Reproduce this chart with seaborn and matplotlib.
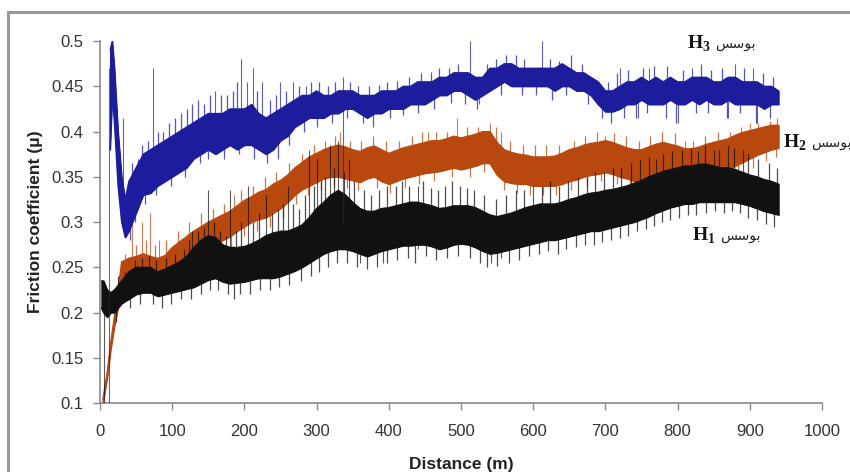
import numpy as np
import pandas as pd
import matplotlib
matplotlib.use('Agg')
import matplotlib.pyplot as plt
import seaborn as sns
from matplotlib.patches import Rectangle
from matplotlib.ticker import FuncFormatter

# distance grid (m) shared by the three traces after the running-in part
grid = list(range(40, 950, 10))

# H3 (blue) - lower / upper edge of the noisy band
h3_start_d = [14, 17, 20, 25, 30, 35]
h3_start_lo = [0.380, 0.440, 0.410, 0.340, 0.300, 0.283]
h3_start_hi = [0.490, 0.500, 0.470, 0.400, 0.350, 0.325]
h3_lo = [0.290, 0.310, 0.330, 0.332, 0.340, 0.345,
         0.350, 0.355, 0.360, 0.370, 0.375, 0.380, 0.375, 0.380, 0.385, 0.380,
         0.385, 0.385, 0.380, 0.375, 0.380, 0.390, 0.395, 0.405, 0.410, 0.415,
         0.415, 0.415, 0.420, 0.420, 0.425, 0.425, 0.420, 0.415, 0.420, 0.420,
         0.425, 0.425, 0.425, 0.430, 0.430, 0.430, 0.435, 0.440, 0.440, 0.445,
         0.445, 0.440, 0.435, 0.440, 0.445, 0.450, 0.455, 0.450, 0.450, 0.450,
         0.450, 0.450, 0.450, 0.445, 0.450, 0.450, 0.445, 0.445, 0.440, 0.430,
         0.422, 0.422, 0.425, 0.430, 0.430, 0.435, 0.430, 0.430, 0.430, 0.435,
         0.430, 0.430, 0.435, 0.430, 0.435, 0.430, 0.430, 0.435, 0.430, 0.430,
         0.430, 0.430, 0.425, 0.430, 0.430]
h3_hi = [0.345, 0.360, 0.375, 0.380, 0.385, 0.390,
         0.395, 0.400, 0.405, 0.410, 0.415, 0.420, 0.420, 0.420, 0.425, 0.425,
         0.425, 0.430, 0.420, 0.415, 0.420, 0.425, 0.430, 0.435, 0.440, 0.440,
         0.445, 0.440, 0.440, 0.445, 0.445, 0.445, 0.440, 0.440, 0.440, 0.445,
         0.445, 0.445, 0.450, 0.450, 0.455, 0.455, 0.455, 0.460, 0.460, 0.465,
         0.465, 0.465, 0.460, 0.460, 0.470, 0.470, 0.475, 0.475, 0.470, 0.470,
         0.470, 0.470, 0.470, 0.470, 0.475, 0.470, 0.465, 0.465, 0.460, 0.455,
         0.445, 0.445, 0.450, 0.455, 0.455, 0.460, 0.455, 0.460, 0.455, 0.460,
         0.455, 0.455, 0.460, 0.460, 0.460, 0.455, 0.455, 0.460, 0.460, 0.455,
         0.455, 0.455, 0.450, 0.450, 0.445]
# tall isolated spikes (distance, bottom, top)
h3_spike_d = [12, 32, 73, 160, 196, 203, 212, 225, 250, 268, 285, 336, 512, 525,
              612, 720, 745, 760, 800, 820, 870, 880, 905, 910]
h3_spike_lo = [0.100, 0.330, 0.370, 0.400, 0.410, 0.410, 0.400, 0.400, 0.410, 0.420, 0.430,
               0.300, 0.440, 0.430, 0.450, 0.440, 0.415, 0.440, 0.410, 0.440, 0.415,
               0.440, 0.440, 0.410]
h3_spike_hi = [0.470, 0.415, 0.470, 0.445, 0.480, 0.455, 0.470, 0.455, 0.455, 0.455, 0.450,
               0.460, 0.500, 0.450, 0.500, 0.470, 0.440, 0.470, 0.440, 0.470, 0.440,
               0.475, 0.470, 0.440]
# small noise peaks poking out of the band edges (distance, tip)
h3_up_d = [45, 52, 58, 66, 80, 88, 96, 104, 112, 120, 128, 136, 144, 152, 168, 176, 184,
           190, 218, 236, 244, 258, 276, 292, 304, 316, 326, 346, 358, 372, 386, 398,
           412, 428, 444, 458, 470, 484, 496, 536, 548, 562, 576, 588, 624, 636, 652,
           668, 704, 716, 732, 752, 768, 786, 808, 832, 846, 862, 892, 918, 932]
h3_up_v = [0.365, 0.370, 0.385, 0.390, 0.400, 0.400, 0.410, 0.415, 0.420, 0.425, 0.430,
           0.435, 0.430, 0.440, 0.440, 0.440, 0.445, 0.455, 0.445, 0.435, 0.440, 0.445,
           0.450, 0.455, 0.455, 0.450, 0.455, 0.455, 0.450, 0.450, 0.452, 0.455, 0.456,
           0.460, 0.465, 0.466, 0.470, 0.470, 0.475, 0.475, 0.480, 0.485, 0.485, 0.480,
           0.480, 0.478, 0.485, 0.475, 0.455, 0.465, 0.468, 0.470, 0.472, 0.472, 0.468,
           0.475, 0.468, 0.470, 0.470, 0.465, 0.460]
h3_dn_d = [42, 48, 62, 78, 98, 118, 138, 150, 172, 192, 214, 232, 246, 262, 282, 300,
           322, 342, 364, 378, 402, 420, 440, 462, 486, 506, 522, 556, 584, 604, 626,
           646, 676, 696, 708, 726, 742, 758, 784, 798, 826, 842, 868, 886, 908, 928]
h3_dn_v = [0.280, 0.300, 0.320, 0.330, 0.340, 0.350, 0.365, 0.370, 0.370, 0.375, 0.370,
           0.365, 0.370, 0.385, 0.400, 0.405, 0.410, 0.415, 0.410, 0.405, 0.415, 0.418,
           0.420, 0.425, 0.432, 0.430, 0.425, 0.440, 0.440, 0.440, 0.435, 0.440, 0.430,
           0.415, 0.410, 0.415, 0.415, 0.420, 0.415, 0.410, 0.420, 0.420, 0.415, 0.420,
           0.410, 0.415]

# H2 (orange)
h2_start_d = [4, 10, 15, 20, 25, 30]
h2_start_lo = [0.100, 0.128, 0.160, 0.185, 0.205, 0.232]
h2_start_hi = [0.104, 0.134, 0.168, 0.196, 0.225, 0.256]
h2_lo = [0.236, 0.236, 0.235, 0.232, 0.232, 0.235,
         0.245, 0.252, 0.257, 0.262, 0.266, 0.270, 0.275, 0.280, 0.284, 0.290,
         0.295, 0.300, 0.303, 0.305, 0.310, 0.315, 0.322, 0.330, 0.336, 0.340,
         0.344, 0.348, 0.350, 0.350, 0.348, 0.346, 0.344, 0.348, 0.350, 0.345,
         0.342, 0.345, 0.348, 0.350, 0.352, 0.354, 0.355, 0.356, 0.358, 0.360,
         0.358, 0.360, 0.362, 0.365, 0.365, 0.352, 0.345, 0.343, 0.342, 0.342,
         0.340, 0.340, 0.340, 0.340, 0.342, 0.345, 0.347, 0.350, 0.352, 0.353,
         0.355, 0.353, 0.350, 0.348, 0.345, 0.345, 0.348, 0.350, 0.350, 0.348,
         0.348, 0.345, 0.345, 0.347, 0.350, 0.352, 0.355, 0.358, 0.362, 0.366,
         0.370, 0.374, 0.377, 0.380, 0.382]
h2_hi = [0.260, 0.262, 0.265, 0.262, 0.260, 0.263,
         0.272, 0.278, 0.284, 0.290, 0.295, 0.300, 0.304, 0.308, 0.312, 0.318,
         0.324, 0.328, 0.333, 0.336, 0.342, 0.346, 0.352, 0.360, 0.366, 0.372,
         0.376, 0.380, 0.383, 0.385, 0.383, 0.380, 0.378, 0.382, 0.384, 0.380,
         0.376, 0.379, 0.382, 0.384, 0.386, 0.388, 0.390, 0.390, 0.392, 0.395,
         0.393, 0.395, 0.397, 0.400, 0.400, 0.388, 0.380, 0.377, 0.375, 0.374,
         0.372, 0.372, 0.372, 0.373, 0.376, 0.380, 0.382, 0.385, 0.387, 0.388,
         0.390, 0.388, 0.385, 0.382, 0.380, 0.380, 0.383, 0.386, 0.388, 0.386,
         0.384, 0.381, 0.381, 0.383, 0.386, 0.388, 0.390, 0.392, 0.396, 0.399,
         0.401, 0.403, 0.405, 0.407, 0.407]
h2_spike_d = [45, 58, 69, 82, 185, 332, 455, 494, 540, 555, 700, 810, 900]
h2_spike_lo = [0.240, 0.240, 0.240, 0.240, 0.300, 0.360, 0.370, 0.370, 0.380, 0.370,
               0.370, 0.360, 0.380]
h2_spike_hi = [0.300, 0.300, 0.310, 0.280, 0.330, 0.400, 0.400, 0.415, 0.410, 0.400,
               0.395, 0.390, 0.410]
h2_up_d = [35, 50, 64, 76, 92, 108, 124, 140, 156, 172, 196, 212, 228, 244, 262, 280,
           296, 312, 326, 346, 362, 378, 396, 414, 432, 446, 466, 480, 508, 524, 548,
           568, 586, 602, 618, 636, 656, 672, 688, 712, 728, 746, 762, 778, 796, 822,
           838, 856, 872, 888, 912, 928, 938]
h2_up_v = [0.265, 0.275, 0.280, 0.275, 0.280, 0.290, 0.300, 0.310, 0.315, 0.320, 0.335,
           0.340, 0.350, 0.355, 0.365, 0.375, 0.385, 0.390, 0.395, 0.390, 0.390, 0.395,
           0.390, 0.390, 0.395, 0.400, 0.400, 0.400, 0.405, 0.405, 0.405, 0.390, 0.385,
           0.385, 0.385, 0.385, 0.390, 0.395, 0.400, 0.398, 0.395, 0.390, 0.395, 0.400,
           0.398, 0.390, 0.395, 0.400, 0.400, 0.405, 0.410, 0.412, 0.415]
h2_dn_d = [38, 54, 72, 88, 104, 118, 134, 148, 164, 182, 200, 218, 236, 254, 272, 288,
           306, 324, 342, 358, 384, 402, 422, 442, 462, 488, 512, 532, 560, 578, 596,
           614, 632, 652, 674, 694, 716, 734, 754, 772, 792, 806, 826, 846, 866, 884,
           904, 922, 936]
h2_dn_v = [0.225, 0.225, 0.222, 0.225, 0.235, 0.245, 0.250, 0.255, 0.265, 0.272, 0.285,
           0.290, 0.295, 0.305, 0.320, 0.330, 0.335, 0.340, 0.338, 0.335, 0.338, 0.332,
           0.338, 0.342, 0.345, 0.350, 0.350, 0.355, 0.335, 0.332, 0.330, 0.330, 0.330,
           0.335, 0.340, 0.345, 0.342, 0.338, 0.335, 0.340, 0.338, 0.335, 0.335, 0.340,
           0.345, 0.352, 0.360, 0.368, 0.372]

# H1 (black)
h1_start_d = [2, 5, 10, 15, 20, 30]
h1_start_lo = [0.205, 0.200, 0.195, 0.200, 0.200, 0.210]
h1_start_hi = [0.235, 0.235, 0.225, 0.222, 0.225, 0.235]
h1_lo = [0.215, 0.220, 0.222, 0.222, 0.218, 0.220,
         0.222, 0.224, 0.226, 0.228, 0.232, 0.236, 0.238, 0.234, 0.232, 0.233,
         0.234, 0.236, 0.238, 0.238, 0.238, 0.240, 0.243, 0.246, 0.250, 0.255,
         0.260, 0.265, 0.268, 0.270, 0.270, 0.268, 0.265, 0.262, 0.265, 0.268,
         0.270, 0.272, 0.274, 0.274, 0.275, 0.275, 0.273, 0.270, 0.272, 0.275,
         0.276, 0.275, 0.272, 0.268, 0.265, 0.266, 0.268, 0.270, 0.272, 0.274,
         0.276, 0.278, 0.280, 0.280, 0.282, 0.284, 0.286, 0.288, 0.290, 0.290,
         0.292, 0.294, 0.296, 0.298, 0.300, 0.303, 0.306, 0.310, 0.313, 0.316,
         0.318, 0.320, 0.320, 0.322, 0.322, 0.322, 0.322, 0.322, 0.322, 0.320,
         0.318, 0.315, 0.312, 0.310, 0.308]
h1_hi = [0.245, 0.250, 0.250, 0.250, 0.245, 0.248,
         0.252, 0.256, 0.262, 0.272, 0.280, 0.285, 0.283, 0.275, 0.272, 0.272,
         0.273, 0.276, 0.280, 0.285, 0.288, 0.290, 0.290, 0.293, 0.297, 0.305,
         0.315, 0.322, 0.330, 0.335, 0.330, 0.322, 0.315, 0.312, 0.312, 0.315,
         0.316, 0.318, 0.320, 0.322, 0.322, 0.320, 0.318, 0.315, 0.316, 0.318,
         0.318, 0.318, 0.316, 0.312, 0.308, 0.306, 0.308, 0.310, 0.313, 0.316,
         0.318, 0.320, 0.320, 0.320, 0.322, 0.325, 0.327, 0.330, 0.332, 0.333,
         0.335, 0.336, 0.338, 0.340, 0.343, 0.346, 0.350, 0.353, 0.356, 0.358,
         0.360, 0.362, 0.362, 0.364, 0.364, 0.362, 0.360, 0.360, 0.358, 0.355,
         0.352, 0.350, 0.347, 0.345, 0.342]
h1_spike_d = [6, 128, 150, 180, 205, 230, 260, 290, 300, 318, 330, 345, 360, 392,
              440, 542, 555, 600, 770, 850, 870, 890]
h1_spike_lo = [0.100, 0.240, 0.260, 0.250, 0.250, 0.250, 0.260, 0.270, 0.270, 0.280,
               0.280, 0.280, 0.255, 0.255, 0.270, 0.255, 0.260, 0.290, 0.320, 0.330,
               0.330, 0.330]
h1_spike_hi = [0.210, 0.290, 0.335, 0.335, 0.340, 0.330, 0.340, 0.380, 0.370, 0.385,
               0.390, 0.370, 0.300, 0.290, 0.340, 0.290, 0.290, 0.340, 0.370, 0.380,
               0.385, 0.380]
h1_up_d = [25, 35, 48, 58, 68, 78, 92, 104, 116, 124, 136, 144, 158, 166, 174, 188, 196,
           212, 220, 238, 246, 254, 268, 276, 284, 296, 306, 312, 324, 338, 352, 366,
           376, 386, 398, 410, 418, 428, 448, 458, 468, 478, 488, 498, 508, 518, 532,
           548, 562, 576, 588, 612, 624, 636, 648, 662, 674, 686, 698, 710, 722, 736,
           748, 760, 780, 792, 806, 818, 828, 838, 858, 878, 898, 912, 926, 938]
h1_up_v = [0.240, 0.245, 0.258, 0.260, 0.262, 0.258, 0.260, 0.265, 0.270, 0.280, 0.290,
           0.295, 0.300, 0.290, 0.285, 0.290, 0.300, 0.300, 0.310, 0.310, 0.315, 0.320,
           0.320, 0.315, 0.330, 0.340, 0.345, 0.350, 0.360, 0.355, 0.345, 0.335, 0.330,
           0.335, 0.340, 0.340, 0.345, 0.340, 0.345, 0.338, 0.335, 0.340, 0.345, 0.340,
           0.338, 0.335, 0.330, 0.325, 0.330, 0.335, 0.335, 0.340, 0.345, 0.340, 0.345,
           0.350, 0.350, 0.355, 0.355, 0.360, 0.360, 0.365, 0.370, 0.372, 0.375, 0.378,
           0.380, 0.382, 0.378, 0.385, 0.380, 0.382, 0.375, 0.370, 0.365, 0.360]
h1_dn_d = [22, 42, 56, 74, 86, 98, 112, 126, 140, 152, 164, 178, 186, 194, 208, 222,
           236, 248, 262, 278, 292, 304, 316, 328, 342, 356, 370, 384, 398, 412, 426,
           436, 452, 466, 480, 496, 512, 526, 536, 550, 566, 580, 594, 608, 620, 634,
           646, 660, 672, 684, 696, 708, 720, 732, 744, 756, 768, 778, 790, 802, 814,
           826, 840, 852, 864, 876, 886, 898, 910, 922, 934]
h1_dn_v = [0.190, 0.205, 0.210, 0.210, 0.205, 0.210, 0.215, 0.215, 0.220, 0.225, 0.225,
           0.220, 0.215, 0.220, 0.220, 0.225, 0.225, 0.228, 0.230, 0.235, 0.240, 0.245,
           0.250, 0.255, 0.255, 0.250, 0.248, 0.250, 0.255, 0.258, 0.260, 0.255, 0.262,
           0.258, 0.260, 0.262, 0.260, 0.255, 0.250, 0.252, 0.255, 0.258, 0.262, 0.265,
           0.268, 0.265, 0.270, 0.272, 0.275, 0.275, 0.278, 0.280, 0.282, 0.285, 0.290,
           0.292, 0.296, 0.300, 0.302, 0.305, 0.308, 0.308, 0.310, 0.312, 0.310, 0.312,
           0.310, 0.305, 0.302, 0.298, 0.295]

series_names = ['H2', 'H1', 'H3']   # drawing order
colors = {'H3': '#1c1c9c', 'H2': '#b9480f', 'H1': '#111111'}

x_ticks = [0, 100, 200, 300, 400, 500, 600, 700, 800, 900, 1000]
y_ticks = [0.1, 0.15, 0.2, 0.25, 0.3, 0.35, 0.4, 0.45, 0.5]

# label: Persian word, shaped by hand since matplotlib has no Arabic shaping
label_word = 'بوسس'
forms = {'ب': ('\uFE8F', '\uFE90', '\uFE91', '\uFE92'),
         'و': ('\uFEED', '\uFEEE', None, None),
         'س': ('\uFEB1', '\uFEB2', '\uFEB3', '\uFEB4')}


def shape(word):
    out = []
    for i, ch in enumerate(word):
        iso, fin, ini, med = forms[ch]
        prev_joins = i > 0 and forms[word[i - 1]][2] is not None
        next_joins = ini is not None and i < len(word) - 1
        if prev_joins and next_joins:
            out.append(med)
        elif prev_joins:
            out.append(fin)
        elif next_joins:
            out.append(ini)
        else:
            out.append(iso)
    return ''.join(reversed(out))


data = {
    'H3': (h3_start_d, h3_start_lo, h3_start_hi, h3_lo, h3_hi,
           h3_spike_d, h3_spike_lo, h3_spike_hi, h3_up_d, h3_up_v, h3_dn_d, h3_dn_v),
    'H2': (h2_start_d, h2_start_lo, h2_start_hi, h2_lo, h2_hi,
           h2_spike_d, h2_spike_lo, h2_spike_hi, h2_up_d, h2_up_v, h2_dn_d, h2_dn_v),
    'H1': (h1_start_d, h1_start_lo, h1_start_hi, h1_lo, h1_hi,
           h1_spike_d, h1_spike_lo, h1_spike_hi, h1_up_d, h1_up_v, h1_dn_d, h1_dn_v),
}

sns.set_style('white')
plt.rcParams['font.family'] = ['Liberation Sans', 'DejaVu Sans']
plt.rcParams['mathtext.fontset'] = 'custom'
plt.rcParams['mathtext.bf'] = 'Liberation Serif:bold'
plt.rcParams['mathtext.rm'] = 'Liberation Serif:bold'

fig = plt.figure(figsize=(8.5, 4.72), dpi=100)
ax = fig.add_axes([0.1176, 0.146, 0.8494, 0.767])

for k, name in enumerate(series_names):
    sd, slo, shi, lo, hi, pd_, plo, phi, ud, uv, dd, dv = data[name]
    band = pd.DataFrame({'distance': sd + grid, 'low': slo + lo, 'high': shi + hi})
    c = colors[name]
    z = 2 + 3 * k
    ax.fill_between(band['distance'], band['low'], band['high'], color=c, lw=0.8, ec=c, zorder=z)
    sns.lineplot(data=band, x='distance', y='low', ax=ax, color=c, lw=0.9, estimator=None, zorder=z)
    sns.lineplot(data=band, x='distance', y='high', ax=ax, color=c, lw=0.9, estimator=None, zorder=z)
    # noise peaks grow out of the band edge
    ax.vlines(ud, np.interp(ud, band['distance'], band['high']) - 0.004, uv,
              color=c, lw=0.9, alpha=0.75, zorder=z + 1)
    ax.vlines(dd, dv, np.interp(dd, band['distance'], band['low']) + 0.004,
              color=c, lw=0.9, alpha=0.75, zorder=z + 1)
    ax.vlines(pd_, plo, phi, color=c, lw=0.8, alpha=0.7, zorder=z + 1)

ax.set_xlim(0, 1000)
ax.set_ylim(0.1, 0.5)
ax.set_xticks(x_ticks)
ax.set_yticks(y_ticks)
ax.yaxis.set_major_formatter(FuncFormatter(lambda v, p: f'{v:g}'))
for side in ['top', 'right']:
    ax.spines[side].set_visible(False)
for side in ['left', 'bottom']:
    ax.spines[side].set_color('#8a8a8a')
    ax.spines[side].set_linewidth(1.2)
ax.tick_params(axis='both', direction='out', length=5, width=1, color='#8a8a8a',
               labelsize=12, labelcolor='#333333', left=True, bottom=True)
ax.tick_params(axis='x', pad=10)
ax.tick_params(axis='y', pad=7)
ax.set_xlabel('Distance (m)', fontsize=12.5, fontweight='bold', color='#222222', labelpad=13)
ax.set_ylabel('Friction coefficient (μ)', fontsize=12.5, fontweight='bold', color='#222222',
              labelpad=6)

word = shape(label_word)
label_pos = {'H3': (687, 49), 'H2': (783, 148), 'H1': (692, 241)}
for name, (px, py) in label_pos.items():
    fx, fy = px / 850, 1 - py / 472
    fig.text(fx, fy, r'$\mathbf{H}_{\mathbf{' + name[1] + '}}$', fontsize=14, color='#111111',
             va='baseline', ha='left')
    fig.text(fx + 28 / 850, fy + 1 / 472, word, fontsize=10, color='#222222',
             family=['DejaVu Sans'], va='baseline', ha='left')

# outer frame of the original figure
fig.patches.append(Rectangle((8 / 850, -0.05), 1.1, 0.9746 + 0.05, transform=fig.transFigure,
                             fill=False, ec='#9a9a9a', lw=2.2))

fig.savefig('out.png', dpi=100)
